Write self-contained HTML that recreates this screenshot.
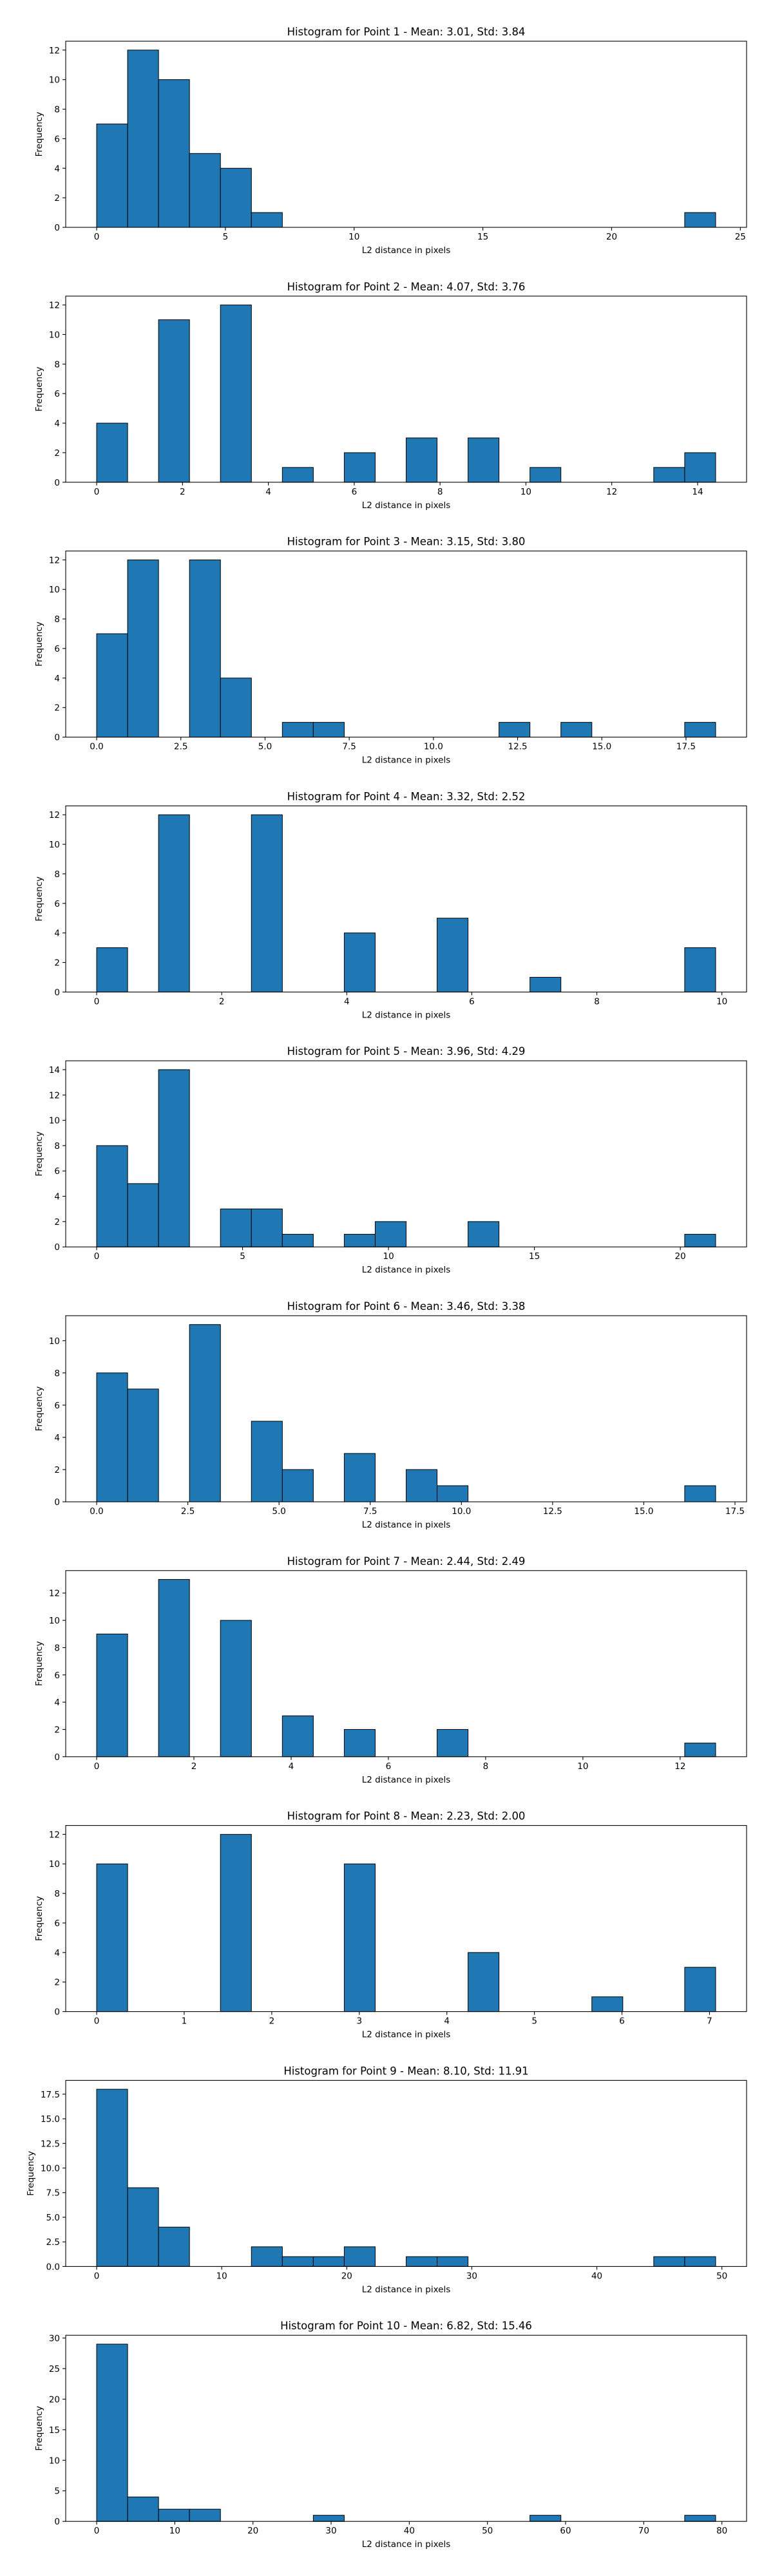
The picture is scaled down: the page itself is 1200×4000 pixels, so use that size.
<!DOCTYPE html>
<html><head><meta charset="utf-8"><style>
html,body{margin:0;padding:0;background:#fff;}
svg{display:block;font-family:"DejaVu Sans","Liberation Sans",sans-serif;}
</style></head><body>
<svg id="fig" width="1200" height="4000" viewBox="0 0 1200 4000" xmlns="http://www.w3.org/2000/svg"></svg>
<script>
const titles = ["Histogram for Point 1 - Mean: 3.01, Std: 3.84","Histogram for Point 2 - Mean: 4.07, Std: 3.76","Histogram for Point 3 - Mean: 3.15, Std: 3.80","Histogram for Point 4 - Mean: 3.32, Std: 2.52","Histogram for Point 5 - Mean: 3.96, Std: 4.29","Histogram for Point 6 - Mean: 3.46, Std: 3.38","Histogram for Point 7 - Mean: 2.44, Std: 2.49","Histogram for Point 8 - Mean: 2.23, Std: 2.00","Histogram for Point 9 - Mean: 8.10, Std: 11.91","Histogram for Point 10 - Mean: 6.82, Std: 15.46"];
const binMin = [0,0,0,0,0,0,0,0,0,0];
const binMax = [24.04,14.42,18.38,9.90,21.21,16.97,12.73,7.07,49.50,79.20];
const counts1 = [7,12,10,5,4,1,0,0,0,0,0,0,0,0,0,0,0,0,0,1];
const counts2 = [4,0,11,0,12,0,1,0,2,0,3,0,3,0,1,0,0,0,1,2];
const counts3 = [7,12,0,12,4,0,1,1,0,0,0,0,0,1,0,1,0,0,0,1];
const counts4 = [3,0,12,0,0,12,0,0,4,0,0,5,0,0,1,0,0,0,0,3];
const counts5 = [8,5,14,0,3,3,1,0,1,2,0,0,2,0,0,0,0,0,0,1];
const counts6 = [8,7,0,11,0,5,2,0,3,0,2,1,0,0,0,0,0,0,0,1];
const counts7 = [9,0,13,0,10,0,3,0,2,0,0,2,0,0,0,0,0,0,0,1];
const counts8 = [10,0,0,0,12,0,0,0,10,0,0,0,4,0,0,0,1,0,0,3];
const counts9 = [18,8,4,0,0,2,1,1,2,0,1,1,0,0,0,0,0,0,1,1];
const counts10 = [29,4,2,2,0,0,0,1,0,0,0,0,0,0,1,0,0,0,0,1];
const allCounts = [counts1,counts2,counts3,counts4,counts5,counts6,counts7,counts8,counts9,counts10];
const xTicks = [[0,5,10,15,20,25],[0,2,4,6,8,10,12,14],[0,2.5,5,7.5,10,12.5,15,17.5],[0,2,4,6,8,10],[0,5,10,15,20],[0,2.5,5,7.5,10,12.5,15,17.5],[0,2,4,6,8,10,12],[0,1,2,3,4,5,6,7],[0,10,20,30,40,50],[0,10,20,30,40,50,60,70,80]];
const xDec = [0,0,1,0,0,1,0,0,0,0];
const yTicks = [[0,2,4,6,8,10,12],[0,2,4,6,8,10,12],[0,2,4,6,8,10,12],[0,2,4,6,8,10,12],[0,2,4,6,8,10,12,14],[0,2,4,6,8,10],[0,2,4,6,8,10,12],[0,2,4,6,8,10,12],[0,2.5,5,7.5,10,12.5,15,17.5],[0,5,10,15,20,25,30]];
const yDec = [0,0,0,0,0,0,0,0,1,0];

const NS="http://www.w3.org/2000/svg";
const fig=document.getElementById('fig');
function mk(tag,attrs,parent){const e=document.createElementNS(NS,tag);for(const k in attrs)e.setAttribute(k,attrs[k]);parent.appendChild(e);return e;}
const L=102,R=1159,H=289,TOP0=64,PITCH=395.8;
for(let p=0;p<10;p++){
  const g=mk('g',{},fig);
  
  
  const top=TOP0+p*PITCH, bot=top+H;
  const lo=binMin[p], hi=binMax[p], rng=hi-lo;
  const x0=lo-0.05*rng, x1=hi+0.05*rng;
  const c=allCounts[p];
  const ymax=Math.max(...c)*1.05;
  const X=v=>L+(v-x0)/(x1-x0)*(R-L);
  const Y=v=>bot-v/ymax*H;
  const bw=rng/c.length;
  for(let i=0;i<c.length;i++){
    if(c[i]<=0) continue;
    const a=X(lo+i*bw), b=X(lo+(i+1)*bw);
    const r=mk('rect',{x:a,y:Y(c[i]),width:b-a,height:bot-Y(c[i]),fill:'#1f77b4',stroke:'#000','stroke-width':1},g);
    
    
  }
  const fr=mk('rect',{x:L,y:top,width:R-L,height:H,fill:'none',stroke:'#000','stroke-width':1.1},g);
  
  
  xTicks[p].forEach(t=>{
    const x=X(t);
    mk('line',{x1:x,y1:bot,x2:x,y2:bot+5,stroke:'#000','stroke-width':1.1},g);
    const tx=mk('text',{x:x,y:bot+19,'font-size':13.5,'text-anchor':'middle',fill:'#000'},g);
    tx.textContent=t.toFixed(xDec[p]);
    
    
  });
  let maxw=0;
  yTicks[p].forEach(t=>{
    const y=Y(t);
    mk('line',{x1:L-5,y1:y,x2:L,y2:y,stroke:'#000','stroke-width':1.1},g);
    const s=t.toFixed(yDec[p]);
    const w=s.replace('.','').length*8.6+(s.includes('.')?4.4:0);
    maxw=Math.max(maxw,w);
    const tx=mk('text',{x:L-9,y:y+5,'font-size':13.5,'text-anchor':'end',fill:'#000'},g);
    tx.textContent=s;
    
    
  });
  const xl=mk('text',{x:(L+R)/2,y:bot+40,'font-size':13.5,'text-anchor':'middle',fill:'#000'},g);
  xl.textContent='L2 distance in pixels';
  
  
  const yx=L-9-maxw-11, yc=top+H/2;
  const yl=mk('text',{x:yx,y:yc,'font-size':13.5,'text-anchor':'middle',fill:'#000',transform:'rotate(-90 '+yx+' '+yc+')'},g);
  yl.textContent='Frequency';
  
  
  const tt=mk('text',{x:(L+R)/2,y:top-9,'font-size':16.5,'text-anchor':'middle',fill:'#000'},g);
  tt.textContent=titles[p];
  
  
}
</script>
</body></html>
